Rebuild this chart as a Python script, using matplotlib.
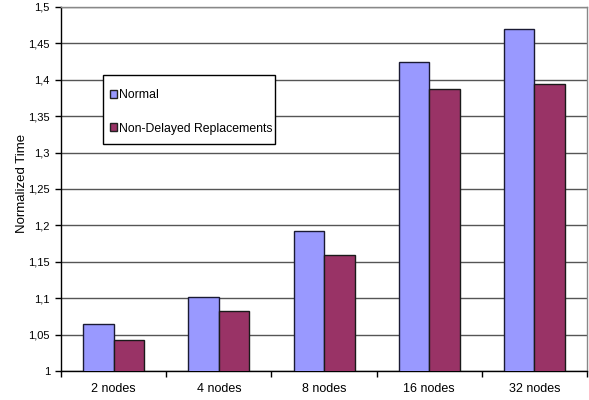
import matplotlib
matplotlib.use("Agg")
import matplotlib.pyplot as plt
import numpy as np
from matplotlib.patches import Patch, Rectangle
from matplotlib.ticker import FuncFormatter, MultipleLocator

categories = ["2 nodes", "4 nodes", "8 nodes", "16 nodes", "32 nodes"]
normal = [1.065, 1.102, 1.192, 1.425, 1.470]
non_delayed = [1.042, 1.082, 1.160, 1.388, 1.394]
series_names = ["Normal", "Non-Delayed Replacements"]
colors = ["#9999FF", "#993366"]

plt.rcParams["font.family"] = ["Liberation Sans", "DejaVu Sans"]

fig = plt.figure(figsize=(5.89, 4.0), dpi=100)
ax = fig.add_axes([0.1036, 0.0725, 0.8930, 0.9100])

x = np.arange(len(categories))
w = 0.29
ax.bar(x - w / 2, normal, w, color=colors[0], edgecolor="#1a1a33",
       linewidth=1.0, zorder=3)
ax.bar(x + w / 2, non_delayed, w, color=colors[1], edgecolor="#1a1a1a",
       linewidth=1.0, zorder=3)

ax.set_xlim(-0.5, len(categories) - 0.5)
ax.set_ylim(1.0, 1.5)
ax.yaxis.set_major_locator(MultipleLocator(0.05))
ax.yaxis.set_major_formatter(
    FuncFormatter(lambda v, _: f"{v:.2f}".rstrip("0").rstrip(".").replace(".", ","))
)
ax.yaxis.grid(True, color="#555555", linewidth=1.0, zorder=0)

ax.set_xticks(x)
ax.set_xticklabels(categories, fontsize=9)
ax.set_xticks(np.arange(-0.5, len(categories)), minor=True)
ax.tick_params(axis="x", which="major", length=0, pad=9)
ax.tick_params(axis="x", which="minor", length=4, width=1, direction="out", color="black")
ax.tick_params(axis="y", length=4, width=1, direction="out", labelsize=8, pad=4)

ax.spines["left"].set_color("black")
ax.spines["bottom"].set_color("black")
ax.spines["top"].set_color("#888888")
ax.spines["right"].set_color("#888888")
for s in ax.spines.values():
    s.set_linewidth(1.0)

ax.set_ylabel("Normalized Time", fontsize=9.5)
ax.yaxis.set_label_coords(-0.063, 0.516)

# legend box
ax.add_patch(Rectangle((0.0798, 0.6236), 0.327, 0.1896, transform=ax.transAxes,
                       facecolor="white", edgecolor="black", linewidth=1.0,
                       zorder=5))
handles = [Patch(facecolor=c, edgecolor="#222222", linewidth=1.0) for c in colors]
leg = ax.legend(handles, series_names, loc="upper left",
                bbox_to_anchor=(0.0932, 0.774), fontsize=8.8, frameon=False,
                handlelength=0.6, handleheight=0.6, handletextpad=0.15,
                labelspacing=1.75, borderpad=0, borderaxespad=0)
leg.set_zorder(6)

fig.savefig("out.png", dpi=100)
